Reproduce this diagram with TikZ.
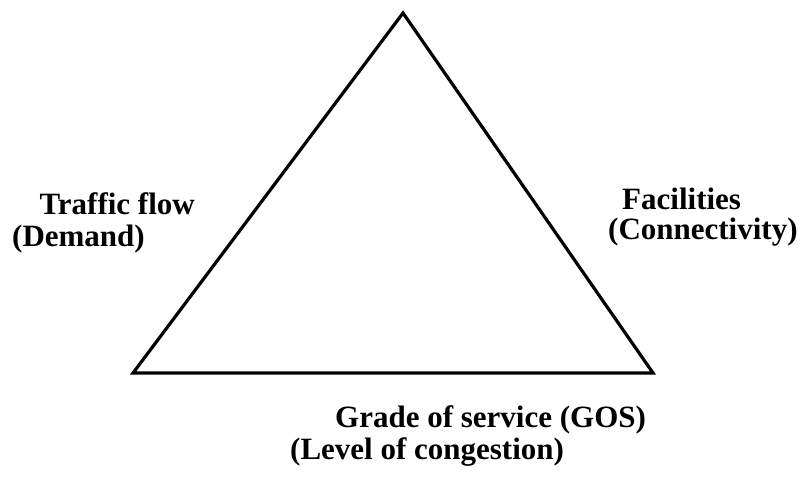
\documentclass[tikz,border=0pt]{standalone}
\usepackage{fontspec}
\setmainfont{Liberation Serif}
\begin{document}
\begin{tikzpicture}[x=1pt,y=-1pt,
  edge/.style={line width=3.2pt,line join=miter},
  label/.style={inner sep=0pt,font=\bfseries\fontsize{31}{31}\selectfont}]
\useasboundingbox (0,0) rectangle (812,477);
% triangle corners
\coordinate (top) at (403,13);
\coordinate (left) at (133,373);
\coordinate (right) at (653,373);
\draw[edge] (top) -- (left) -- (right) -- cycle;
% left side labels
\node[label,anchor=base east] (flow) at (195,214) {Traffic flow};
\node[label,anchor=base west] (demand) at (12,246) {(Demand)};
% right side labels
\node[label,anchor=base west] (fac) at (622,209) {Facilities};
\node[label,anchor=base west] (conn) at (608,239) {(Connectivity)};
% bottom labels
\node[label,anchor=base west] (gos) at (335,427) {Grade of service (GOS)};
\node[label,anchor=base west] (cong) at (290,459) {(Level of congestion)};
\end{tikzpicture}
\end{document}
